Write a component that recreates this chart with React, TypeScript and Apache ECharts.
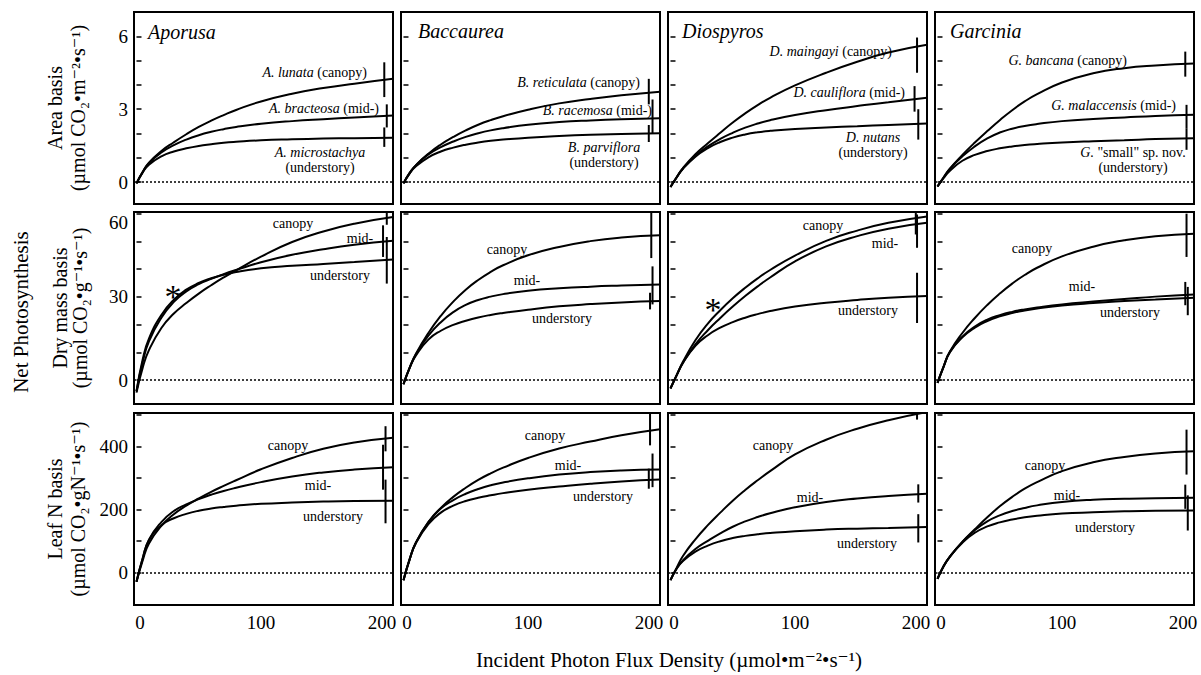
import React, { useEffect, useRef } from 'react';
import * as echarts from 'echarts';

// ---------------- data ----------------
const PPFD = [0, 5, 10, 20, 30, 40, 50, 60, 70, 80, 100, 125, 150, 175, 206];

const GENERA = ['Aporusa', 'Baccaurea', 'Diospyros', 'Garcinia'];
const BASES = ['Area basis', 'Dry mass basis', 'Leaf N basis'];
const BASIS_UNITS = ['(µmol CO₂•m⁻²•s⁻¹)', '(µmol CO₂•g⁻¹•s⁻¹)', '(µmol CO₂•gN⁻¹•s⁻¹)'];
const Y_TITLE = 'Net Photosynthesis';
const X_TITLE = 'Incident Photon Flux Density (µmol•m⁻²•s⁻¹)';

const X_LABELS = [0, 100, 200];
const Y_TICKS = [
  [0, 1, 2, 3, 4, 5, 6],
  [0, 10, 20, 30, 40, 50, 60],
  [0, 100, 200, 300, 400, 500],
];
const Y_LABELS = [
  [0, 3, 6],
  [0, 30, 60],
  [0, 200, 400],
];

// Area basis
const aporusaAreaCanopy = [-0.05, 0.42, 0.8, 1.28, 1.64, 1.97, 2.27, 2.53, 2.76, 2.97, 3.32, 3.64, 3.87, 4.05, 4.25];
const aporusaAreaMid = [-0.05, 0.42, 0.78, 1.22, 1.52, 1.75, 1.93, 2.07, 2.18, 2.27, 2.4, 2.51, 2.59, 2.66, 2.74];
const aporusaAreaUnder = [-0.05, 0.4, 0.72, 1.06, 1.26, 1.39, 1.49, 1.56, 1.62, 1.66, 1.72, 1.76, 1.79, 1.81, 1.83];
const baccaureaAreaCanopy = [-0.05, 0.38, 0.7, 1.17, 1.55, 1.86, 2.13, 2.36, 2.55, 2.71, 2.98, 3.24, 3.42, 3.57, 3.72];
const baccaureaAreaMid = [-0.05, 0.38, 0.7, 1.14, 1.44, 1.67, 1.86, 2.01, 2.13, 2.22, 2.36, 2.47, 2.54, 2.59, 2.63];
const baccaureaAreaUnder = [-0.05, 0.36, 0.65, 1.02, 1.26, 1.42, 1.54, 1.63, 1.7, 1.75, 1.83, 1.9, 1.95, 1.98, 2.01];
const diospyrosAreaCanopy = [-0.2, 0.2, 0.58, 1.15, 1.6, 2.03, 2.45, 2.83, 3.17, 3.47, 3.98, 4.5, 4.95, 5.33, 5.65];
const diospyrosAreaMid = [-0.2, 0.2, 0.56, 1.08, 1.47, 1.78, 2.03, 2.24, 2.41, 2.55, 2.76, 2.96, 3.13, 3.29, 3.47];
const diospyrosAreaUnder = [-0.2, 0.2, 0.55, 1.05, 1.4, 1.65, 1.83, 1.96, 2.05, 2.11, 2.19, 2.25, 2.3, 2.35, 2.41];
const garciniaAreaCanopy = [-0.18, 0.2, 0.56, 1.12, 1.63, 2.1, 2.55, 2.96, 3.32, 3.62, 4.1, 4.48, 4.69, 4.8, 4.88];
const garciniaAreaMid = [-0.18, 0.2, 0.55, 1.06, 1.47, 1.8, 2.04, 2.2, 2.31, 2.39, 2.51, 2.6, 2.66, 2.72, 2.77];
const garciniaAreaUnder = [-0.18, 0.17, 0.47, 0.88, 1.12, 1.28, 1.39, 1.47, 1.53, 1.57, 1.63, 1.68, 1.72, 1.77, 1.81];

// Dry mass basis
const aporusaMassCanopy = [-4.5, 4.5, 10.8, 18.8, 24, 27.8, 31.2, 34.2, 37, 39.6, 44.5, 49.8, 53.6, 56.4, 58.8];
const aporusaMassMid = [-4, 6.5, 14, 22.5, 28.2, 32, 34.6, 36.5, 38.2, 39.7, 42.5, 45.2, 47.2, 48.8, 50.2];
const aporusaMassUnder = [-4, 7.5, 15, 23.5, 29, 32.6, 35, 36.7, 38, 39, 40.3, 41.2, 41.9, 42.6, 43.5];
const baccaureaMassCanopy = [-1.5, 4.5, 9.5, 17, 23.2, 28.3, 32.6, 36.1, 39, 41.4, 45, 48, 50.1, 51.4, 52.2];
const baccaureaMassMid = [-1.5, 4.5, 9.3, 16, 20.9, 24.5, 27.1, 28.9, 30.1, 31, 32.2, 33.1, 33.7, 34.1, 34.5];
const baccaureaMassUnder = [-1.5, 4.5, 8.9, 14.6, 17.8, 19.9, 21.4, 22.6, 23.5, 24.2, 25.4, 26.6, 27.4, 28, 28.5];
const diospyrosMassCanopy = [-3, 1.8, 6.6, 14.4, 20.4, 25.2, 29.5, 33.3, 36.7, 39.7, 44.9, 50.2, 53.9, 56.7, 59];
const diospyrosMassMid = [-3, 1.8, 6.3, 12.9, 18, 22.4, 26.5, 30.3, 33.8, 37, 42.8, 48.2, 51.9, 54.6, 56.7];
const diospyrosMassUnder = [-3, 1.8, 6.2, 12.4, 16.2, 18.9, 20.9, 22.5, 23.8, 24.9, 26.5, 27.9, 28.9, 29.7, 30.3];
const garciniaMassCanopy = [-1, 5, 10.3, 17, 22.4, 27.1, 31.2, 34.8, 37.9, 40.5, 44.6, 48.1, 50.4, 51.9, 52.8];
const garciniaMassMid = [-1, 5, 10.2, 15.7, 19.3, 21.8, 23.4, 24.6, 25.5, 26.2, 27.3, 28.3, 29.2, 30.1, 30.9];
const garciniaMassUnder = [-1, 5, 10.1, 15.4, 18.9, 21.3, 23, 24.2, 25.1, 25.8, 26.9, 27.8, 28.5, 29.1, 29.7];

// Leaf N basis
const aporusaNCanopy = [-30, 38, 92, 148, 185, 212, 235, 256, 275, 293, 328, 364, 393, 413, 428];
const aporusaNMid = [-30, 45, 104, 160, 195, 216, 233, 247, 259, 269, 287, 305, 318, 327, 334];
const aporusaNUnder = [-30, 45, 102, 150, 172, 186, 196, 203, 208, 212, 218, 222, 225, 227, 228];
const baccaureaNCanopy = [-25, 42, 95, 160, 205, 240, 269, 294, 315, 333, 364, 394, 416, 436, 455];
const baccaureaNMid = [-25, 42, 95, 160, 203, 230, 250, 265, 277, 286, 299, 311, 319, 324, 327];
const baccaureaNUnder = [-25, 42, 93, 153, 190, 212, 227, 237, 245, 252, 263, 273, 282, 289, 295];
const diospyrosNCanopy = [-25, 15, 52, 105, 150, 190, 228, 262, 293, 322, 375, 422, 457, 484, 510];
const diospyrosNMid = [-25, 12, 38, 74, 100, 124, 145, 162, 176, 188, 207, 224, 235, 243, 250];
const diospyrosNUnder = [-25, 12, 36, 66, 85, 99, 109, 116, 121, 125, 131, 136, 139, 141, 144];
const garciniaNCanopy = [-21, 20, 50, 97, 137, 175, 210, 240, 266, 287, 322, 350, 367, 378, 385];
const garciniaNMid = [-21, 20, 50, 97, 134, 162, 181, 195, 205, 213, 224, 231, 234, 236, 237];
const garciniaNUnder = [-21, 20, 50, 94, 126, 146, 159, 168, 175, 180, 187, 191, 194, 196, 197];

// error bars: [PPFD, low, high] for canopy, mid-, understory
const aporusaAreaErr = [[199, 3.5, 4.93], [201, 2.25, 3.2], [199, 1.45, 2.25]];
const baccaureaAreaErr = [[197, 3.2, 4.25], [200, 2.0, 3.4], [197, 1.65, 2.35]];
const diospyrosAreaErr = [[198, 4.5, 5.95], [196, 2.9, 3.95], [199, 1.75, 3.0]];
const garciniaAreaErr = [[199, 4.34, 5.37], [200, 2.22, 3.18], [200, 1.33, 2.22]];
const aporusaMassErr = [[201, 56, 61.5], [198, 44.4, 55.8], [201, 34.8, 51.6]];
const baccaureaMassErr = [[199, 44, 61], [200, 27.3, 41], [198, 25.5, 31.5]];
const diospyrosMassErr = [[197, 52.5, 61], [198, 47.7, 59.7], [198, 20.6, 38.7]];
const garciniaMassErr = [[200, 44.4, 60], [199, 27, 35.4], [201, 23.4, 33.6]];
const aporusaNErr = [[200, 385, 465], [198, 263, 406], [200, 156, 295]];
const baccaureaNErr = [[198, 404, 511], [200, 271, 378], [197, 266, 330]];
const diospyrosNErr = [[198, 486, 530], [199, 222, 280], [199, 95, 185]];
const garciniaNErr = [[200, 311, 454], [199, 202, 279], [201, 133, 245]];

const CURVES = [
  [
    [aporusaAreaCanopy, aporusaAreaMid, aporusaAreaUnder],
    [baccaureaAreaCanopy, baccaureaAreaMid, baccaureaAreaUnder],
    [diospyrosAreaCanopy, diospyrosAreaMid, diospyrosAreaUnder],
    [garciniaAreaCanopy, garciniaAreaMid, garciniaAreaUnder],
  ],
  [
    [aporusaMassCanopy, aporusaMassMid, aporusaMassUnder],
    [baccaureaMassCanopy, baccaureaMassMid, baccaureaMassUnder],
    [diospyrosMassCanopy, diospyrosMassMid, diospyrosMassUnder],
    [garciniaMassCanopy, garciniaMassMid, garciniaMassUnder],
  ],
  [
    [aporusaNCanopy, aporusaNMid, aporusaNUnder],
    [baccaureaNCanopy, baccaureaNMid, baccaureaNUnder],
    [diospyrosNCanopy, diospyrosNMid, diospyrosNUnder],
    [garciniaNCanopy, garciniaNMid, garciniaNUnder],
  ],
];
const ERRORS = [
  [aporusaAreaErr, baccaureaAreaErr, diospyrosAreaErr, garciniaAreaErr],
  [aporusaMassErr, baccaureaMassErr, diospyrosMassErr, garciniaMassErr],
  [aporusaNErr, baccaureaNErr, diospyrosNErr, garciniaNErr],
];

// ---------------- layout / style ----------------
const SERIF = "'Liberation Serif', 'Times New Roman', 'DejaVu Serif', serif";
const COL_LEFT = [134, 401, 668, 935];
const ROW_TOP = [12, 212, 413];
const PANEL_W = 259;
const PANEL_H = 192;
const X_RANGE = [-2, 206];
const Y_MIN = [-0.9, -8.6, -104];
const Y_MAX = [7, 60.6, 507];

type Note = { t: string; x: number; y: number; a?: string; s?: number };
const NOTES: Note[] = [
  // row 1
  { t: '{i|A. lunata} (canopy)', x: 367, y: 72, a: 'right' },
  { t: '{i|A. bracteosa} (mid-)', x: 379, y: 108, a: 'right' },
  { t: '{i|A. microstachya}\n(understory)', x: 320, y: 160 },
  { t: '{i|B. reticulata} (canopy)', x: 640, y: 82, a: 'right' },
  { t: '{i|B. racemosa} (mid-)', x: 652, y: 110, a: 'right' },
  { t: '{i|B. parviflora}\n(understory)', x: 604, y: 155 },
  { t: '{i|D. maingayi} (canopy)', x: 892, y: 51, a: 'right' },
  { t: '{i|D. cauliflora} (mid-)', x: 905, y: 92, a: 'right' },
  { t: '{i|D. nutans}\n(understory)', x: 873, y: 145 },
  { t: '{i|G. bancana} (canopy)', x: 1127, y: 60, a: 'right' },
  { t: '{i|G. malaccensis} (mid-)', x: 1176, y: 105, a: 'right' },
  { t: '{i|G.} "small" sp. nov.\n(understory)', x: 1133, y: 160 },
  // row 2
  { t: 'canopy', x: 293, y: 223 },
  { t: 'mid-', x: 360, y: 238 },
  { t: 'understory', x: 340, y: 275 },
  { t: '*', x: 173, y: 296, s: 34 },
  { t: 'canopy', x: 507, y: 249 },
  { t: 'mid-', x: 527, y: 280 },
  { t: 'understory', x: 562, y: 318 },
  { t: '*', x: 713, y: 309, s: 34 },
  { t: 'canopy', x: 823, y: 225 },
  { t: 'mid-', x: 885, y: 243 },
  { t: 'understory', x: 868, y: 310 },
  { t: 'canopy', x: 1032, y: 248 },
  { t: 'mid-', x: 1082, y: 286 },
  { t: 'understory', x: 1130, y: 312 },
  // row 3
  { t: 'canopy', x: 288, y: 445 },
  { t: 'mid-', x: 318, y: 485 },
  { t: 'understory', x: 333, y: 516 },
  { t: 'canopy', x: 545, y: 435 },
  { t: 'mid-', x: 568, y: 465 },
  { t: 'understory', x: 603, y: 496 },
  { t: 'canopy', x: 773, y: 445 },
  { t: 'mid-', x: 810, y: 497 },
  { t: 'understory', x: 867, y: 543 },
  { t: 'canopy', x: 1045, y: 465 },
  { t: 'mid-', x: 1067, y: 495 },
  { t: 'understory', x: 1105, y: 527 },
];

const GENUS_POS = [
  [148, 32],
  [418, 31],
  [682, 31],
  [950, 31],
];
const BASIS_X = [
  [55, 78],
  [60, 80],
  [55, 78],
];

function buildOption() {
  const grid: any[] = [];
  const xAxis: any[] = [];
  const yAxis: any[] = [];
  const series: any[] = [];
  const tickFont = { fontSize: 19, fontFamily: SERIF, color: '#000' };

  for (let r = 0; r < 3; r++) {
    for (let c = 0; c < 4; c++) {
      const idx = r * 4 + c;
      grid.push({
        left: COL_LEFT[c],
        top: ROW_TOP[r],
        width: PANEL_W,
        height: PANEL_H,
        show: true,
        borderColor: '#000',
        borderWidth: 2,
        backgroundColor: '#fff',
      });
      xAxis.push({
        type: 'value',
        gridIndex: idx,
        min: X_RANGE[0],
        max: X_RANGE[1],
        axisLine: { show: false },
        axisTick: { show: false },
        splitLine: { show: false },
        axisLabel: {
          show: r === 2,
          customValues: X_LABELS,
          ...tickFont,
          margin: 8,
          formatter: (v: number) => (v === 0 ? '{l|0}' : v === 200 ? '{r|200}' : String(v)),
          rich: {
            l: { ...tickFont, padding: [0, 0, 0, 7] },
            r: { ...tickFont, padding: [0, 7, 0, 0] },
          },
        },
      });
      yAxis.push({
        type: 'value',
        gridIndex: idx,
        min: Y_MIN[r],
        max: Y_MAX[r],
        axisLine: { show: false },
        splitLine: { show: false },
        axisTick: {
          show: true,
          inside: true,
          length: 5,
          customValues: Y_TICKS[r],
          lineStyle: { color: '#000', width: 1.5 },
        },
        axisLabel: {
          show: c === 0,
          customValues: Y_LABELS[r],
          ...tickFont,
          margin: 6,
          formatter: (v: number) => (r === 1 && v === 60 ? '{low|60}' : String(v)),
          rich: {
            low: { ...tickFont, padding: [18, 0, 0, 0] },
          },
        },
      });

      const curves = CURVES[r][c];
      curves.forEach((vals, k) => {
        series.push({
          type: 'line',
          xAxisIndex: idx,
          yAxisIndex: idx,
          data: PPFD.map((x, i) => [x, vals[i]]),
          smooth: 0.5,
          showSymbol: false,
          symbol: 'none',
          silent: true,
          clip: true,
          lineStyle: { color: '#000', width: 2 },
          markLine:
            k === 0
              ? {
                  silent: true,
                  symbol: ['none', 'none'],
                  label: { show: false },
                  lineStyle: { color: '#000', width: 1.5, type: [2, 2] },
                  data: [{ yAxis: 0 }],
                }
              : undefined,
        });
      });
      ERRORS[r][c].forEach((e) => {
        series.push({
          type: 'line',
          xAxisIndex: idx,
          yAxisIndex: idx,
          data: [
            [e[0], e[1]],
            [e[0], e[2]],
          ],
          showSymbol: false,
          symbol: 'none',
          silent: true,
          clip: true,
          lineStyle: { color: '#000', width: 2 },
        });
      });
    }
  }

  const graphic: any[] = [];
  const richI = { i: { fontStyle: 'italic', fontSize: 14, fontFamily: SERIF, fill: '#000' } };
  NOTES.forEach((n) => {
    graphic.push({
      type: 'text',
      x: n.x,
      y: n.y,
      silent: true,
      z: 100,
      style: {
        text: n.t,
        fill: '#000',
        fontSize: n.s || 14,
        fontFamily: SERIF,
        align: n.a || 'center',
        verticalAlign: 'middle',
        lineHeight: 15,
        rich: richI,
      },
    });
  });
  GENERA.forEach((g, c) => {
    graphic.push({
      type: 'text',
      x: GENUS_POS[c][0],
      y: GENUS_POS[c][1],
      silent: true,
      z: 100,
      style: {
        text: g,
        fill: '#000',
        fontSize: 20,
        fontStyle: 'italic',
        fontFamily: SERIF,
        align: 'left',
        verticalAlign: 'middle',
      },
    });
  });
  BASES.forEach((b, r) => {
    const cy = ROW_TOP[r] + PANEL_H / 2;
    graphic.push({
      type: 'text',
      x: BASIS_X[r][0],
      y: cy,
      rotation: Math.PI / 2,
      silent: true,
      style: { text: b, fill: '#000', fontSize: 20, fontFamily: SERIF, align: 'center', verticalAlign: 'middle' },
    });
    graphic.push({
      type: 'text',
      x: BASIS_X[r][1],
      y: cy,
      rotation: Math.PI / 2,
      silent: true,
      style: { text: BASIS_UNITS[r], fill: '#000', fontSize: 20, fontFamily: SERIF, align: 'center', verticalAlign: 'middle' },
    });
  });
  graphic.push({
    type: 'text',
    x: 21,
    y: 312,
    rotation: Math.PI / 2,
    silent: true,
    style: { text: Y_TITLE, fill: '#000', fontSize: 21, fontFamily: SERIF, align: 'center', verticalAlign: 'middle' },
  });
  graphic.push({
    type: 'text',
    x: 669,
    y: 660,
    silent: true,
    style: { text: X_TITLE, fill: '#000', fontSize: 21, fontFamily: SERIF, align: 'center', verticalAlign: 'middle' },
  });

  return {
    animation: false,
    backgroundColor: '#fff',
    grid,
    xAxis,
    yAxis,
    series,
    graphic,
  };
}

export default function App() {
  const ref = useRef<HTMLDivElement>(null);
  useEffect(() => {
    if (!ref.current) return;
    const chart = echarts.init(ref.current, undefined, { renderer: 'svg' });
    chart.setOption(buildOption() as any);
    return () => chart.dispose();
  }, []);
  return (
    <div
      ref={ref}
      style={{ position: 'absolute', left: 0, top: 0, width: 1201, height: 675, background: '#fff' }}
    />
  );
}
